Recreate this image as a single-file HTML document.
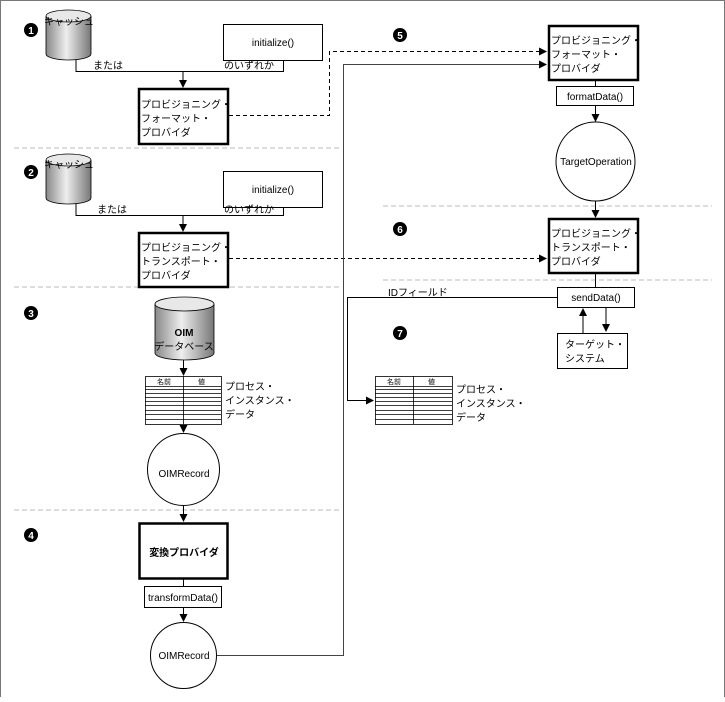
<!DOCTYPE html>
<html><head><meta charset="utf-8"><style>
html,body{margin:0;padding:0;background:#fff}
text{font-family:"Liberation Sans","Noto Sans CJK JP",sans-serif;font-size:10px;fill:#000}
</style></head><body>
<svg width="725" height="697" xmlns="http://www.w3.org/2000/svg">
<defs>
<marker id="a" markerWidth="8" markerHeight="8" refX="7" refY="4" orient="auto" markerUnits="userSpaceOnUse"><path d="M0,0 L8,4 L0,8z" fill="#000"/></marker>
<linearGradient id="g" x1="0" x2="1"><stop offset="0" stop-color="#888"/><stop offset="0.45" stop-color="#eee"/><stop offset="1" stop-color="#777"/></linearGradient>
</defs>
<rect x="0.5" y="0.5" width="724" height="700" fill="none" stroke="#777"/>
<g stroke="#bbb" stroke-dasharray="5,3" stroke-width="1">
<line x1="14" y1="148" x2="340" y2="148"/><line x1="14" y1="287" x2="340" y2="287"/><line x1="14" y1="510" x2="340" y2="510"/>
<line x1="383" y1="206" x2="712" y2="206"/><line x1="383" y1="280" x2="712" y2="280"/>
</g>
<!-- number markers -->
<g font-weight="bold">
<circle cx="31" cy="30" r="7"/><text x="31" y="34" text-anchor="middle" style="fill:#fff;font-size:10px;font-weight:bold">1</text>
<circle cx="31" cy="172" r="7"/><text x="31" y="176" text-anchor="middle" style="fill:#fff;font-size:10px;font-weight:bold">2</text>
<circle cx="31" cy="313" r="7"/><text x="31" y="317" text-anchor="middle" style="fill:#fff;font-size:10px;font-weight:bold">3</text>
<circle cx="31" cy="535" r="7"/><text x="31" y="539" text-anchor="middle" style="fill:#fff;font-size:10px;font-weight:bold">4</text>
<circle cx="400" cy="35" r="7"/><text x="400" y="39" text-anchor="middle" style="fill:#fff;font-size:10px;font-weight:bold">5</text>
<circle cx="400" cy="229" r="7"/><text x="400" y="233" text-anchor="middle" style="fill:#fff;font-size:10px;font-weight:bold">6</text>
<circle cx="400" cy="333" r="7"/><text x="400" y="337" text-anchor="middle" style="fill:#fff;font-size:10px;font-weight:bold">7</text>
</g>
<!-- cylinders -->
<g stroke="#000" stroke-width="0.8">
<path d="M46,16 L46,54 A22.5,6 0 0 0 91,54 L91,16" fill="url(#g)"/><ellipse cx="68.5" cy="16" rx="22.5" ry="6" fill="#e8e8e8"/>
<path d="M46,160 L46,198 A22.5,6 0 0 0 91,198 L91,160" fill="url(#g)"/><ellipse cx="68.5" cy="160" rx="22.5" ry="6" fill="#e8e8e8"/>
<path d="M155,304 L155,353 A29.5,7 0 0 0 214,353 L214,304" fill="url(#g)"/><ellipse cx="184.5" cy="304" rx="29.5" ry="7" fill="#e8e8e8"/>
</g>
<text x="44" y="25">キャッシュ</text><text x="44" y="168">キャッシュ</text>
<text x="184" y="336" text-anchor="middle" font-weight="bold" style="font-weight:bold">OIM</text>
<text x="184" y="350" text-anchor="middle">データベース</text>
<!-- section 1 -->
<g fill="none" stroke="#000" stroke-width="1">
<rect x="223.5" y="24.5" width="99" height="36" fill="#fff"/>
<polyline points="76,60 76,71.5 283.5,71.5 283.5,60"/>
<line x1="183" y1="71" x2="183" y2="87" marker-end="url(#a)"/>
<rect x="139" y="89" width="89" height="55" stroke-width="2.5" fill="#fff"/>
<rect x="223.5" y="171.5" width="99" height="36" fill="#fff"/>
<polyline points="76,204 76,215.5 283.5,215.5 283.5,207"/>
<line x1="183" y1="215" x2="183" y2="231" marker-end="url(#a)"/>
<rect x="139" y="233" width="89" height="54" stroke-width="2.5" fill="#fff"/>
<polyline points="229,115.5 329.5,115.5 329.5,51.5 546,51.5" stroke-dasharray="4,3" marker-end="url(#a)"/>
<line x1="229" y1="258.5" x2="546" y2="258.5" stroke-dasharray="4,3" marker-end="url(#a)"/>
<polyline points="216,655.5 343.5,655.5 343.5,64.5 546,64.5" stroke="#444" marker-end="url(#a)"/>
<!-- right -->
<rect x="549" y="26" width="89" height="54" stroke-width="2.5" fill="#fff"/>
<line x1="595.5" y1="80" x2="595.5" y2="86"/>
<rect x="556.5" y="86.5" width="77" height="19" fill="#fff"/>
<line x1="595.5" y1="105" x2="595.5" y2="121" marker-end="url(#a)"/>
<circle cx="595.5" cy="161.5" r="39.5" fill="#fff"/>
<line x1="595.5" y1="201" x2="595.5" y2="217" marker-end="url(#a)"/>
<rect x="549" y="219" width="89" height="54" stroke-width="2.5" fill="#fff"/>
<line x1="595.5" y1="273" x2="595.5" y2="287"/>
<rect x="557.5" y="287.5" width="77" height="20" fill="#fff"/>
<line x1="583" y1="333" x2="583" y2="309" marker-end="url(#a)"/>
<line x1="606" y1="307" x2="606" y2="331" marker-end="url(#a)"/>
<rect x="557.5" y="333.5" width="70" height="35" fill="#fff"/>
<polyline points="557,297.5 347.5,297.5 347.5,400.5 373,400.5" marker-end="url(#a)"/>
<!-- section 3 -->
<line x1="183.5" y1="360" x2="183.5" y2="375" marker-end="url(#a)"/>
<line x1="183.5" y1="424" x2="183.5" y2="432" marker-end="url(#a)"/>
<circle cx="183.5" cy="469.5" r="36" fill="#fff"/>
<line x1="183.5" y1="505" x2="183.5" y2="521" marker-end="url(#a)"/>
<rect x="139.5" y="523.5" width="88" height="55" stroke-width="2.5" fill="#fff"/>
<line x1="183.5" y1="579" x2="183.5" y2="586"/>
<rect x="144.5" y="586.5" width="77" height="21" fill="#fff"/>
<line x1="183.5" y1="607" x2="183.5" y2="621" marker-end="url(#a)"/>
<circle cx="183.5" cy="655.5" r="33" fill="#fff"/>
</g>
<!-- tables -->
<g fill="#fff" stroke="#000" stroke-width="0.8">
<rect x="145.5" y="376.5" width="76" height="48"/>
<path d="M145,386.5H221M145,389.5H221M145,393.5H221M145,397.5H221M145,401.5H221M145,405.5H221M145,410.5H221M145,414.5H221M145,419.5H221M183.5,376V424"/>
<rect x="375.5" y="376.5" width="77" height="48"/>
<path d="M375,386.5H452M375,389.5H452M375,393.5H452M375,397.5H452M375,401.5H452M375,405.5H452M375,410.5H452M375,414.5H452M375,419.5H452M413.5,376V424"/>
</g>
<g style="font-size:7px"><text x="157" y="384" style="font-size:7px">名前</text><text x="198" y="384" style="font-size:7px">値</text>
<text x="387" y="384" style="font-size:7px">名前</text><text x="428" y="384" style="font-size:7px">値</text></g>
<!-- labels -->
<text x="273" y="46" text-anchor="middle">initialize()</text>
<text x="273" y="193" text-anchor="middle">initialize()</text>
<text x="93" y="69">または</text><text x="224" y="69">のいずれか</text>
<text x="97" y="213">または</text><text x="224" y="213">のいずれか</text>
<text x="141" y="108">プロビジョニング・</text><text x="141" y="122">フォーマット・</text><text x="141" y="136">プロバイダ</text>
<text x="141" y="251">プロビジョニング・</text><text x="141" y="265">トランスポート・</text><text x="141" y="279">プロバイダ</text>
<text x="551" y="44">プロビジョニング・</text><text x="551" y="58">フォーマット・</text><text x="551" y="72">プロバイダ</text>
<text x="551" y="237">プロビジョニング・</text><text x="551" y="251">トランスポート・</text><text x="551" y="265">プロバイダ</text>
<text x="595" y="100" text-anchor="middle">formatData()</text>
<text x="596" y="165" text-anchor="middle">TargetOperation</text>
<text x="596" y="301" text-anchor="middle">sendData()</text>
<text x="565" y="348">ターゲット・</text><text x="565" y="362">システム</text>
<text x="388" y="296">IDフィールド</text>
<text x="225" y="390">プロセス・</text><text x="225" y="404">インスタンス・</text><text x="225" y="418">データ</text>
<text x="456" y="393">プロセス・</text><text x="456" y="407">インスタンス・</text><text x="456" y="421">データ</text>
<text x="184" y="477" text-anchor="middle">OIMRecord</text>
<text x="184" y="556" text-anchor="middle" style="font-weight:bold">変換プロバイダ</text>
<text x="183" y="601" text-anchor="middle">transformData()</text>
<text x="184" y="659" text-anchor="middle">OIMRecord</text>
</svg>
</body></html>
